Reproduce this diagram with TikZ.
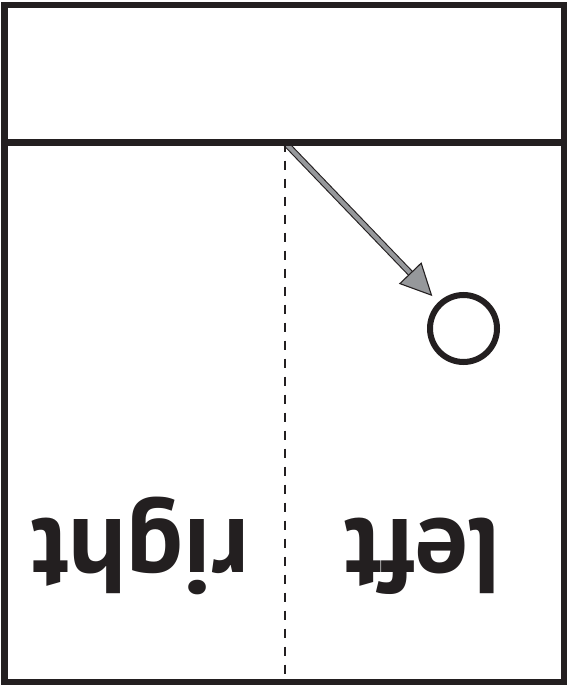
\documentclass[tikz,border=0pt]{standalone}
\usepackage{fontspec}
\setsansfont{PT Sans}
\usetikzlibrary{arrows.meta}
\definecolor{cink}{RGB}{35,31,32}
\definecolor{carrow}{RGB}{150,152,155}

\tikzset{
  frame/.style={draw=cink,line width=6.5pt},
  fold/.style={draw=cink,line width=2.2pt,dash pattern=on 9pt off 9pt},
  side/.style={rotate=180,anchor=base,inner sep=0pt,text=cink,
    font=\sffamily\bfseries\fontsize{106}{106}\selectfont},
  ball/.style={circle,draw=cink,line width=6pt,minimum size=67pt,inner sep=0pt},
}

\begin{document}
\begin{tikzpicture}[x=1pt,y=-1pt,line cap=butt]
\useasboundingbox (0,0) rectangle (566,685);
% ---------- points and labels ----------
\coordinate (split) at (285,142.7);
\coordinate (foot) at (285,682);
\node[ball] (ring) at (463.5,328.5) {};
\node[side] (right) at (140.5,519) {right};
\node[side] (left) at (422.5,519) {left};
% ---------- arrow ----------
\draw[cink,line width=6.4pt,shorten >=72pt] (split) -- (ring.center);
\draw[carrow,line width=4.2pt,shorten >=45pt,shorten <=1pt,
  -{Triangle[length=32pt,width=31pt,line width=1.1pt,color=cink,fill=carrow]}]
  (split) -- (ring.center);
% ---------- fold and frame ----------
\draw[fold] (split) -- (foot);
\draw[frame] (4.5,4.8) rectangle (563.8,681.8);
\draw[frame] (4.5,142.7) -- (563.8,142.7);
\end{tikzpicture}
\end{document}
